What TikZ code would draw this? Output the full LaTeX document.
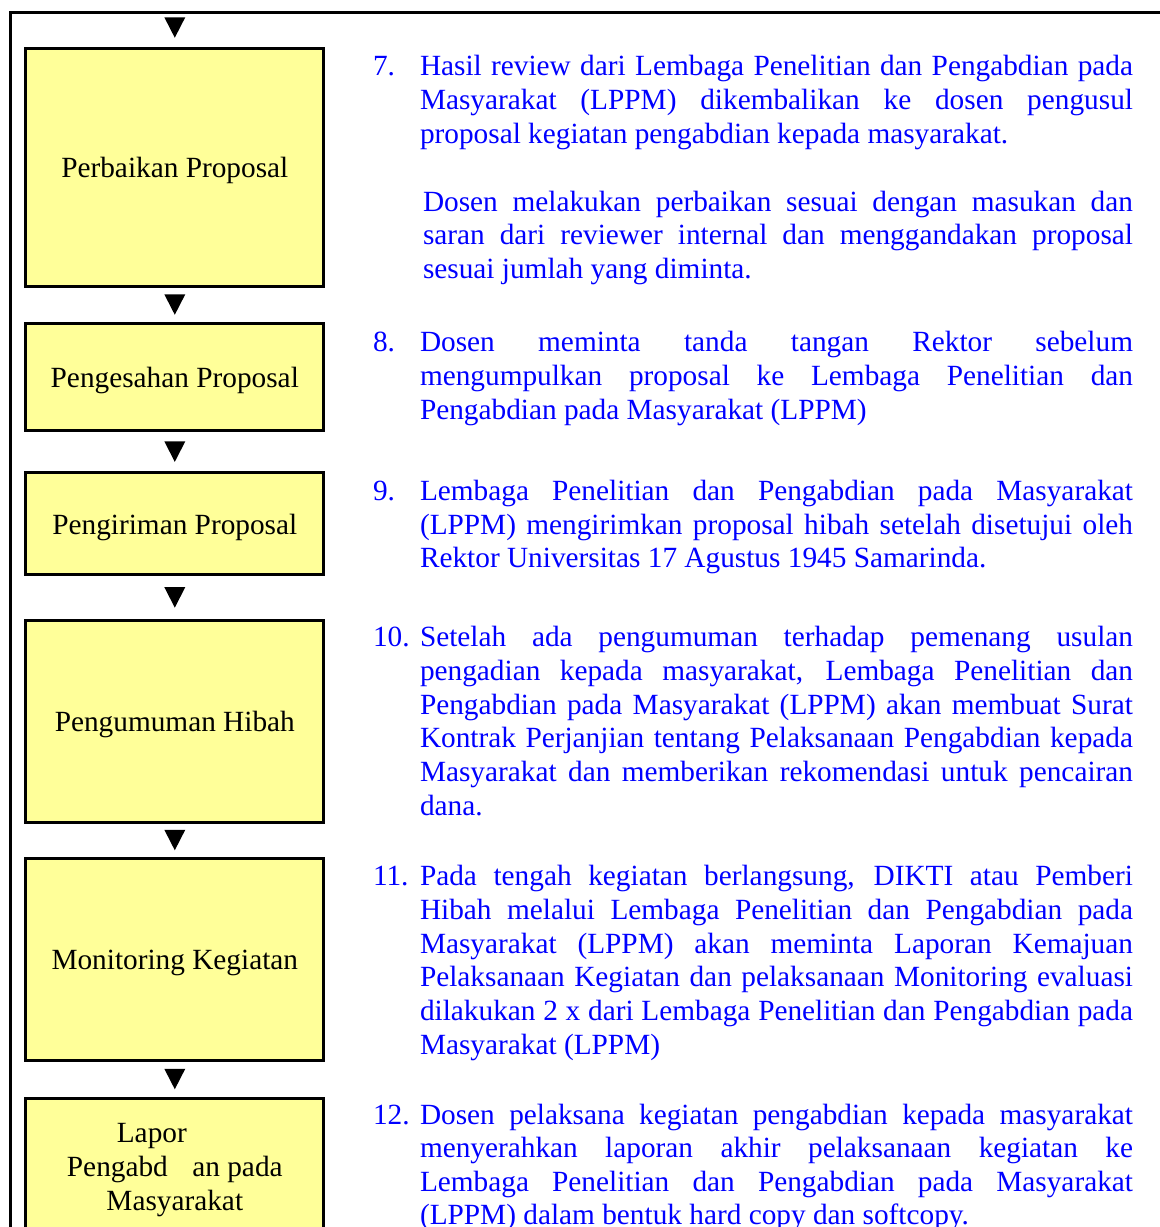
\documentclass[tikz,border=0pt]{standalone}
\usepackage{fontspec}
\setmainfont{Liberation Serif}
\usetikzlibrary{calc}
\definecolor{txtblue}{RGB}{0,0,255}
\definecolor{boxyellow}{RGB}{255,255,153}
\tikzset{
  stepbox/.style={draw=black, line width=3pt, fill=boxyellow, rectangle, minimum width=298pt, inner sep=0pt, align=center, font=\fontsize{29.3}{33.7}\selectfont, text=black},
  txt/.style={inner sep=0pt, outer sep=0pt, text=txtblue, font=\fontsize{29.3}{33.7}\selectfont, anchor=base west},
  frameline/.style={line width=2.6pt, draw=black},
}
% strut that lowers the box text slightly
\newcommand\bxs{\rule{0pt}{27.5pt}}
% justified line (width 713), justified line of second paragraph (width 710), natural line
\newcommand\jl[3]{\node[txt] (#1) at (#2) {\hbox to 713pt{#3}};}
\newcommand\jlb[3]{\node[txt] (#1) at (#2) {\hbox to 710pt{#3}};}
\newcommand\nl[3]{\node[txt] (#1) at (#2) {#3};}
\newcommand\tri[2]{\fill[black] ($(#1)!0.5!(#2)+(-10.5,-10.25)$) -- ($(#1)!0.5!(#2)+(10.5,-10.25)$) -- ($(#1)!0.5!(#2)+(0,10.25)$) -- cycle;}
\begin{document}
\begin{tikzpicture}[x=1pt,y=-1pt]
\useasboundingbox (0,0) rectangle (1160,1227);
\clip (0,0) rectangle (1160,1227);
% outer frame
\draw[frameline] (1200,12.5) -- (10.7,12.5) -- (10.7,1300);
\coordinate (top) at (174.8,8.5);
% boxes
\node[stepbox, minimum height=238pt] (b1) at (174.8,167) {\bxs Perbaikan Proposal};
\node[stepbox, minimum height=107.3pt] (b2) at (174.8,376.7) {\bxs Pengesahan Proposal};
\node[stepbox, minimum height=101.9pt] (b3) at (174.8,523.8) {\bxs Pengiriman Proposal};
\node[stepbox, minimum height=202pt] (b4) at (174.8,721) {\bxs Pengumuman Hibah};
\node[stepbox, minimum height=202pt] (b5) at (174.8,959) {\bxs Monitoring Kegiatan};
\node[stepbox, minimum height=136pt] (b6) at (174.8,1166) {\bxs\makebox[24pt][r]{Lapor}\\Pengabd\hspace{24.5pt}an pada\\Masyarakat};
% arrowheads
\tri{top}{b1.north}
\tri{b1.south}{b2.north}
\tri{b2.south}{b3.north}
\tri{b3.south}{b4.north}
\tri{b4.south}{b5.north}
\tri{b5.south}{b6.north}
% item 7
\nl{n7}{373,75}{7.}
\jl{t7a}{420,75}{Hasil review dari Lembaga Penelitian dan Pengabdian pada}
\jl{t7b}{420,109}{Masyarakat (LPPM) dikembalikan ke dosen pengusul}
\nl{t7c}{420,143}{proposal kegiatan pengabdian kepada masyarakat.}
\jlb{t7d}{423,211}{Dosen melakukan perbaikan sesuai dengan masukan dan}
\jlb{t7e}{423,244.5}{saran dari reviewer internal dan menggandakan proposal}
\nl{t7f}{423,278}{sesuai jumlah yang diminta.}
% item 8
\nl{n8}{373,351}{8.}
\jl{t8a}{420,351}{Dosen meminta tanda tangan Rektor sebelum}
\jl{t8b}{420,385}{mengumpulkan proposal ke Lembaga Penelitian dan}
\nl{t8c}{420,419}{Pengabdian pada Masyarakat (LPPM)}
% item 9
\nl{n9}{373,500}{9.}
\jl{t9a}{420,500}{Lembaga Penelitian dan Pengabdian pada Masyarakat}
\jl{t9b}{420,534}{(LPPM) mengirimkan proposal hibah setelah disetujui oleh}
\nl{t9c}{420,567.5}{Rektor Universitas 17 Agustus 1945 Samarinda.}
% item 10
\nl{n10}{373,646}{10.}
\jl{t10a}{420,646}{Setelah ada pengumuman terhadap pemenang usulan}
\jl{t10b}{420,680}{pengadian kepada masyarakat, Lembaga Penelitian dan}
\jl{t10c}{420,714}{Pengabdian pada Masyarakat (LPPM) akan membuat Surat}
\jl{t10d}{420,747.5}{Kontrak Perjanjian tentang Pelaksanaan Pengabdian kepada}
\jl{t10e}{420,781}{Masyarakat dan memberikan rekomendasi untuk pencairan}
\nl{t10f}{420,815}{dana.}
% item 11
\nl{n11}{373,885}{11.}
\jl{t11a}{420,885}{Pada tengah kegiatan berlangsung, DIKTI atau Pemberi}
\jl{t11b}{420,919}{Hibah melalui Lembaga Penelitian dan Pengabdian pada}
\jl{t11c}{420,953}{Masyarakat (LPPM) akan meminta Laporan Kemajuan}
\jl{t11d}{420,986.5}{Pelaksanaan Kegiatan dan pelaksanaan Monitoring evaluasi}
\jl{t11e}{420,1020}{dilakukan 2 x dari Lembaga Penelitian dan Pengabdian pada}
\nl{t11f}{420,1054}{Masyarakat (LPPM)}
% item 12
\nl{n12}{373,1124}{12.}
\jl{t12a}{420,1124}{Dosen pelaksana kegiatan pengabdian kepada masyarakat}
\jl{t12b}{420,1157.5}{menyerahkan laporan akhir pelaksanaan kegiatan ke}
\jl{t12c}{420,1191}{Lembaga Penelitian dan Pengabdian pada Masyarakat}
\nl{t12d}{420,1224.5}{(LPPM) dalam bentuk hard copy dan softcopy.}
\end{tikzpicture}
\end{document}
